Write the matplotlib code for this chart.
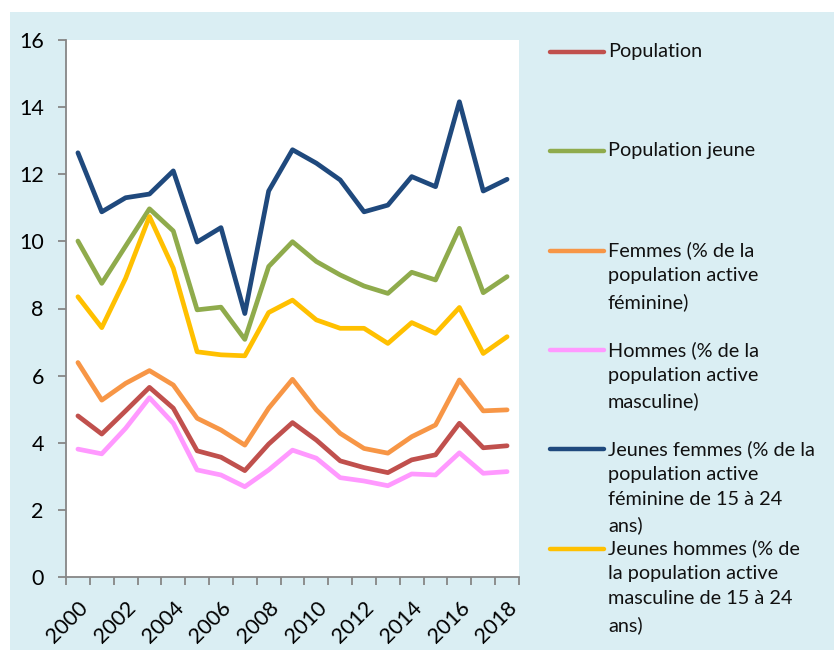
import numpy as np
from matplotlib import pyplot as plt
from matplotlib import transforms
from matplotlib.lines import Line2D
from matplotlib.patches import Rectangle

plt.rcParams['font.family'] = ['Lato', 'DejaVu Sans']

years = list(range(2000, 2019))

population = [4.80, 4.26, 4.95, 5.65, 5.03, 3.76, 3.57, 3.17, 3.96, 4.60,
	4.08, 3.46, 3.26, 3.11, 3.49, 3.64, 4.58, 3.85, 3.91]
population_jeune = [10.01, 8.75, 9.86, 10.97, 10.31, 7.96, 8.04, 7.08, 9.25, 9.99,
	9.40, 9.00, 8.67, 8.45, 9.08, 8.85, 10.39, 8.47, 8.95]
femmes = [6.39, 5.27, 5.77, 6.15, 5.72, 4.73, 4.38, 3.93, 5.03, 5.89,
	4.98, 4.28, 3.83, 3.69, 4.18, 4.53, 5.87, 4.95, 4.98]
hommes = [3.81, 3.67, 4.43, 5.34, 4.58, 3.19, 3.04, 2.69, 3.19, 3.78,
	3.54, 2.96, 2.86, 2.72, 3.07, 3.04, 3.70, 3.09, 3.14]
jeunes_femmes = [12.64, 10.88, 11.30, 11.41, 12.10, 9.98, 10.41, 7.85, 11.50, 12.73,
	12.33, 11.83, 10.88, 11.08, 11.93, 11.63, 14.16, 11.50, 11.85]
jeunes_hommes = [8.35, 7.43, 8.90, 10.74, 9.20, 6.71, 6.62, 6.59, 7.88, 8.25,
	7.66, 7.41, 7.41, 6.96, 7.58, 7.26, 8.03, 6.66, 7.16]

labels = [
	"Population",
	"Population jeune",
	"Femmes (% de la\npopulation active\nféminine)",
	"Hommes (% de la\npopulation active\nmasculine)",
	"Jeunes femmes (% de la\npopulation active\nféminine de 15 à 24\nans)",
	"Jeunes hommes (% de\nla population active\nmasculine de 15 à 24\nans)",
]
series = [population, population_jeune, femmes, hommes, jeunes_femmes, jeunes_hommes]
colors = ["#C0504D", "#8FAB4C", "#F79646", "#FF99FF", "#1F497D", "#FFC000"]

W, H = 834, 650
fig = plt.figure(figsize=(W / 100, H / 100), dpi=100)
fig.patch.set_facecolor("white")
fig.add_artist(Rectangle((10 / W, 0), 1 - 10 / W, 1 - 12 / H,
	transform=fig.transFigure, facecolor="#DAEEF3", edgecolor="none", zorder=-10))

ax = fig.add_axes([66 / W, 1 - 577 / H, (519 - 66) / W, (577 - 40) / H])
ax.set_zorder(5)
ax.set_facecolor("white")

# draw order: later series on top
for vals, col in zip(series, colors):
	ax.plot(years, vals, color=col, lw=3.4, solid_capstyle="round", solid_joinstyle="round")

ax.set_ylim(0, 16)
ax.set_yticks(range(0, 17, 2))
ax.set_xlim(1999.5, 2018.5)
ax.set_xticks(years[::2])
ax.set_xticklabels([str(y) for y in years[::2]], rotation=45, ha="right", va="top",
	rotation_mode="anchor")
ax.set_xticks(np.arange(1999.5, 2019, 1), minor=True)
shift = transforms.ScaledTranslation(1 / 100, 0, fig.dpi_scale_trans)
for lbl in ax.get_xticklabels():
	lbl.set_transform(lbl.get_transform() + shift)

for side in ["top", "right"]:
	ax.spines[side].set_visible(False)
for side in ["left", "bottom"]:
	ax.spines[side].set_color("#868686")
	ax.spines[side].set_linewidth(1.3)

ax.tick_params(axis="y", length=6, width=1.3, color="#868686", labelsize=15.5, pad=10)
ax.tick_params(axis="x", which="major", length=0, labelsize=15.5, pad=15)
ax.tick_params(axis="x", which="minor", length=6, width=1.3, color="#868686")

# legend drawn by hand on the right
for i, (lab, col) in enumerate(zip(labels, colors)):
	ly = 52 + 99.3 * i
	fig.add_artist(Line2D([550 / W, 604 / W], [1 - ly / H, 1 - ly / H], color=col, lw=3.2,
		solid_capstyle="round", transform=fig.transFigure))
	fig.text(608 / W, 1 - (ly - 9) / H, lab, fontsize=14.3, va="top", ha="left",
		linespacing=1.57, color="#111111")

fig.savefig("out.png", dpi=100)
